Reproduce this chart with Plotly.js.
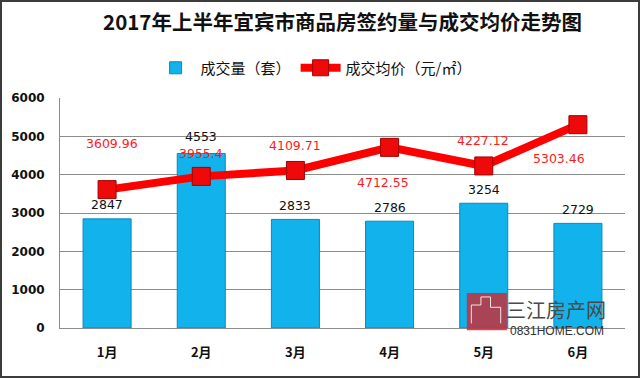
<!DOCTYPE html>
<html>
<head>
<meta charset="utf-8">
<script src="https://cdn.plot.ly/plotly-3.0.1.min.js"></script>
<style>
  html, body { margin: 0; padding: 0; background: #fff; }
  #wrap { position: relative; width: 640px; height: 378px; }
  #chart { width: 640px; height: 378px; }
  #frame { position: absolute; left: 0; top: 0; width: 640px; height: 378px; box-sizing: border-box; border: 2px solid #3c3c3c; pointer-events: none; }
</style>
</head>
<body>
<div id="wrap"><div id="chart"></div><div id="frame"></div></div>
<script>
// ---- data ----
const months = ['1月', '2月', '3月', '4月', '5月', '6月'];
const volume = [2847, 4553, 2833, 2786, 3254, 2729];          // 成交量（套）
const avgPrice = [3609.96, 3955.4, 4109.71, 4712.55, 4227.12, 5303.46]; // 成交均价（元/㎡）
const yTicks = [0, 1000, 2000, 3000, 4000, 5000, 6000];
const volumeName = '成交量（套）';
const priceName = '成交均价（元/㎡）';
const titleText = '2017年上半年宜宾市商品房签约量与成交均价走势图';

const numFont = 'DejaVu Sans, Noto Sans CJK SC, sans-serif';
const cjkFont = 'Noto Sans CJK SC, DejaVu Sans, sans-serif';

const traces = [
  {
    type: 'bar', name: volumeName, x: months, y: volume,
    width: 0.51,
    marker: { color: '#12b2ec', line: { color: '#0a88bb', width: 1 } },
    hoverinfo: 'skip'
  },
  {
    type: 'scatter', mode: 'lines+markers', name: priceName, x: months, y: avgPrice,
    line: { color: '#ff0000', width: 8 },
    marker: { symbol: 'square', size: 18, color: '#ee0a0a', line: { color: '#a30000', width: 1 } },
    hoverinfo: 'skip'
  }
];

// label offsets for the price line (position only)
const priceShift = [[5, 46], [0, 23], [0, 25], [-7, -35], [-1, 25], [-19, -34]];
const volShift = [14, 17, 14, 14, 14, 14];

const annotations = [];
volume.forEach((v, i) => {
  annotations.push({
    x: months[i], y: v, xref: 'x', yref: 'y', text: String(v), showarrow: false,
    xanchor: 'center', yanchor: 'middle',
    yshift: volShift[i], font: { family: numFont, size: 12.5, color: '#111' }
  });
});
avgPrice.forEach((v, i) => {
  annotations.push({
    x: months[i], y: v, xref: 'x', yref: 'y', text: String(v), showarrow: false,
    xanchor: 'center', yanchor: 'middle',
    xshift: priceShift[i][0], yshift: priceShift[i][1],
    font: { family: numFont, size: 12.5, color: '#ff1a1a' }
  });
});
// watermark
annotations.push({
  x: 0.878, y: 0.08, xref: 'paper', yref: 'paper', text: '三江房产网', showarrow: false,
  xanchor: 'center', yanchor: 'middle',
  font: { family: cjkFont, size: 20, color: '#4a4a4a' }
});
annotations.push({
  x: 0.88, y: -0.012, xref: 'paper', yref: 'paper', text: '0831HOME.COM', showarrow: false,
  xanchor: 'center', yanchor: 'middle',
  font: { family: 'Liberation Sans Narrow, Liberation Sans, sans-serif', size: 12, color: '#333' }
});

const layout = {
  width: 640, height: 378,
  margin: { l: 60, r: 15, t: 98, b: 50 },
  paper_bgcolor: '#ffffff', plot_bgcolor: '#ffffff',
  title: {
    text: titleText, x: 0.5, xref: 'paper', xanchor: 'center', y: 0.94, yref: 'container', yanchor: 'middle',
    font: { family: cjkFont, size: 20.5, color: '#111', weight: 'bold' }
  },
  showlegend: true,
  legend: {
    orientation: 'h', x: 0.49, xanchor: 'center', xref: 'container', y: 0.82, yref: 'container', yanchor: 'middle',
    font: { family: cjkFont, size: 15, color: '#111' }, itemwidth: 40, traceorder: 'normal'
  },
  xaxis: {
    type: 'category', tickfont: { family: cjkFont, size: 13, color: '#111', weight: 'bold' },
    showline: true, linecolor: '#8c8c8c', linewidth: 1, ticks: '', showgrid: false, fixedrange: true,
    ticklabelstandoff: 12
  },
  yaxis: {
    range: [0, 6000], tickvals: yTicks, ticktext: yTicks.map(String),
    tickfont: { family: numFont, size: 12, color: '#111', weight: 'bold' },
    showgrid: true, gridcolor: '#8c8c8c', gridwidth: 1, showline: true, linecolor: '#8c8c8c',
    zeroline: false, ticks: '', ticklabelstandoff: 12, fixedrange: true
  },
  shapes: [
    { type: 'rect', xref: 'paper', yref: 'paper', x0: 0.72, x1: 0.791, y0: -0.01, y1: 0.152,
      fillcolor: 'rgba(196,48,60,0.85)', line: { width: 0 }, layer: 'above' },
    { type: 'path', xref: 'paper', yref: 'paper', layer: 'above',
      path: 'M 0.728 0.02 L 0.728 0.10 L 0.745 0.10 L 0.745 0.135 L 0.762 0.135 L 0.762 0.09 L 0.78 0.09 L 0.78 0.02',
      line: { color: 'rgba(255,255,255,0.85)', width: 1 } }
  ],
  annotations: annotations
};

Plotly.newPlot('chart', traces, layout, { displayModeBar: false, staticPlot: true });
</script>
</body>
</html>
